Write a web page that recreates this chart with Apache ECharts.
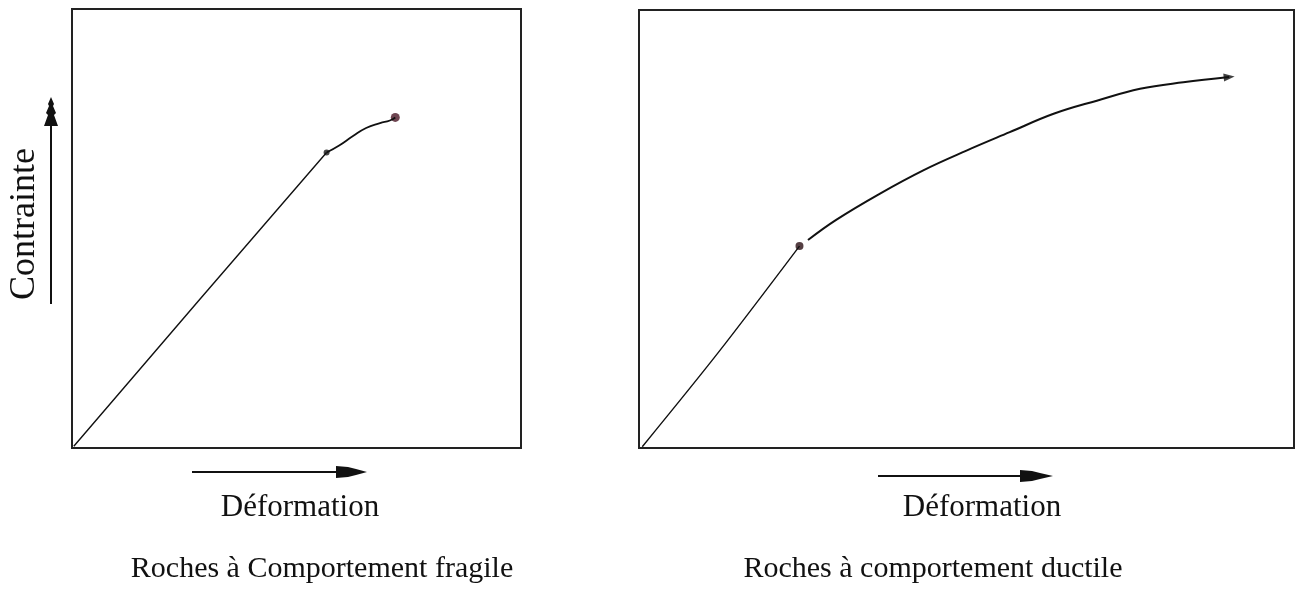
<!DOCTYPE html>
<html>
<head>
<meta charset="utf-8">
<script src="https://cdn.jsdelivr.net/npm/echarts@6/dist/echarts.min.js"></script>
<style>
html,body{margin:0;padding:0;background:#fff;}
#chart{width:1298px;height:590px;}
</style>
</head>
<body>
<div id="chart"></div>
<script>
// ---- Data (arbitrary units 0..100 on both axes) ----
// Left panel: brittle (fragile) behaviour
const fragileElastic = [[0.4, 0.4], [28, 33.3], [56.7, 67.3]];
const fragilePlastic = [[56.7, 67.3], [59.5, 68.9], [62.5, 71.0], [65.5, 72.9], [68.6, 74.0], [70.8, 74.6], [72.0, 75.3]];
const fragileYieldPoint = [[56.7, 67.3]];
const fragileRupturePoint = [[72.0, 75.3]];

// Right panel: ductile behaviour
const ductileElastic = [[0.5, 0.3], [12.0, 21.6], [24.5, 46.1]];
const ductilePlastic = [[25.8, 47.5], [30.1, 52.1], [36.8, 58.1], [43.4, 63.4], [50.0, 67.9], [56.6, 72.1], [63.3, 76.3], [69.9, 79.3], [76.5, 82.0], [83.1, 83.5], [90.1, 84.7]];
const ductileYieldPoint = [[24.5, 46.1]];
const ductileArrowTip = [[90.1, 84.7]];

// Texts
const yAxisLabel = 'Contrainte';
const xAxisLabel = 'Déformation';
const panelTitles = ['Roches à Comportement fragile', 'Roches à comportement ductile'];

const FONT = "'Liberation Serif', 'DejaVu Serif', serif";
const INK = '#111';

const chart = echarts.init(document.getElementById('chart'), null, {renderer: 'canvas'});

const axisCommon = {type: 'value', min: 0, max: 100, show: false};

chart.setOption({
  backgroundColor: '#ffffff',
  animation: false,
  grid: [
    {left: 72, top: 9, width: 449, height: 439, show: true, borderColor: '#222', borderWidth: 2, backgroundColor: 'transparent'},
    {left: 639, top: 10, width: 655, height: 438, show: true, borderColor: '#222', borderWidth: 2, backgroundColor: 'transparent'}
  ],
  xAxis: [
    Object.assign({gridIndex: 0}, axisCommon),
    Object.assign({gridIndex: 1}, axisCommon)
  ],
  yAxis: [
    Object.assign({gridIndex: 0}, axisCommon),
    Object.assign({gridIndex: 1}, axisCommon)
  ],
  series: [
    {type: 'line', xAxisIndex: 0, yAxisIndex: 0, data: fragileElastic, symbol: 'none', lineStyle: {color: INK, width: 1.4}},
    {type: 'line', xAxisIndex: 0, yAxisIndex: 0, data: fragilePlastic, symbol: 'none', smooth: 0.5, lineStyle: {color: INK, width: 1.8}},
    {type: 'scatter', xAxisIndex: 0, yAxisIndex: 0, data: fragileYieldPoint, symbol: 'circle', symbolSize: 6, itemStyle: {color: '#1a1a1a'}},
    {type: 'scatter', xAxisIndex: 0, yAxisIndex: 0, data: fragileRupturePoint, symbol: 'circle', symbolSize: 9, itemStyle: {color: '#4a1626'}},
    {type: 'line', xAxisIndex: 1, yAxisIndex: 1, data: ductileElastic, symbol: 'none', smooth: 0.3, lineStyle: {color: INK, width: 1.4}},
    {type: 'line', xAxisIndex: 1, yAxisIndex: 1, data: ductilePlastic, symbol: 'none', smooth: 0.4, lineStyle: {color: INK, width: 2}},
    {type: 'scatter', xAxisIndex: 1, yAxisIndex: 1, data: ductileYieldPoint, symbol: 'circle', symbolSize: 8, itemStyle: {color: '#2a0f14'}},
    {type: 'scatter', xAxisIndex: 1, yAxisIndex: 1, data: ductileArrowTip, symbol: 'triangle', symbolSize: [8, 11], symbolRotate: -84, itemStyle: {color: INK}}
  ],
  graphic: [
    // vertical stress arrow (left)
    {type: 'line', shape: {x1: 51, y1: 304, x2: 51, y2: 120}, style: {stroke: INK, lineWidth: 2}},
    {type: 'polygon', shape: {points: [[51, 97], [54, 104], [53, 106], [56, 113], [54, 115], [58, 126], [44, 126], [48, 115], [46, 113], [49, 106], [48, 104]]}, style: {fill: INK}},
    {type: 'text', x: 25, y: 224, rotation: Math.PI / 2, style: {text: yAxisLabel, font: '36px ' + FONT, fill: INK, align: 'center', verticalAlign: 'middle'}},
    // strain arrow (left)
    {type: 'line', shape: {x1: 192, y1: 472, x2: 340, y2: 472}, style: {stroke: INK, lineWidth: 2}},
    {type: 'polygon', shape: {points: [[336, 466], [348, 467], [356, 469], [367, 472], [356, 475], [348, 477], [336, 478]]}, style: {fill: INK}},
    {type: 'text', x: 300, y: 508, style: {text: xAxisLabel, font: '31px ' + FONT, fill: INK, align: 'center', verticalAlign: 'middle'}},
    {type: 'text', x: 322, y: 569, style: {text: panelTitles[0], font: '30px ' + FONT, fill: INK, align: 'center', verticalAlign: 'middle'}},
    // strain arrow (right)
    {type: 'line', shape: {x1: 878, y1: 476, x2: 1025, y2: 476}, style: {stroke: INK, lineWidth: 2}},
    {type: 'polygon', shape: {points: [[1020, 470], [1032, 471], [1040, 473], [1053, 476], [1040, 479], [1032, 481], [1020, 482]]}, style: {fill: INK}},
    {type: 'text', x: 982, y: 508, style: {text: xAxisLabel, font: '31px ' + FONT, fill: INK, align: 'center', verticalAlign: 'middle'}},
    {type: 'text', x: 933, y: 569, style: {text: panelTitles[1], font: '30px ' + FONT, fill: INK, align: 'center', verticalAlign: 'middle'}}
  ]
});
</script>
</body>
</html>
